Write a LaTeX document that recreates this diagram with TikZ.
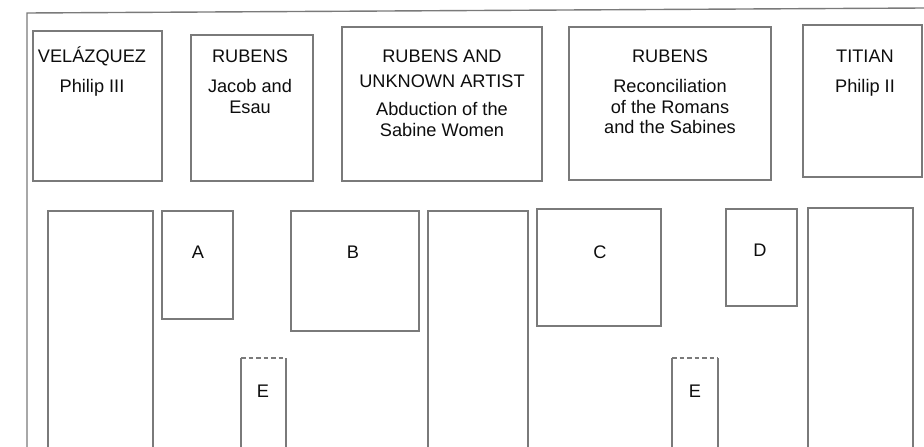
\documentclass[tikz,border=0pt]{standalone}
\usepackage{fontspec}
\setmainfont{Liberation Sans}
\begin{document}
\begin{tikzpicture}[x=1pt,y=-1pt,
  wall/.style={draw=black!52,line width=1.4pt},
  frame/.style={draw=black!52,line width=1.4pt},
  boxx/.style={wall,anchor=north west,inner sep=0pt,outer sep=0pt},
  lbl/.style={anchor=base,inner sep=0pt,text=black!95,font=\fontsize{18.2}{21}\selectfont}]
\useasboundingbox (0,0) rectangle (924,447);
% outer frame
\coordinate (fbl) at (27,447);
\coordinate (ftl) at (27,13);
\coordinate (ftr) at (924,8);
\draw[frame] (fbl) -- (ftl) -- (ftr);
% top row paintings
\node[boxx,minimum width=129pt,minimum height=150pt] (p1) at (33,31) {};
\node[boxx,minimum width=122pt,minimum height=146pt] (p2) at (191,35) {};
\node[boxx,minimum width=200pt,minimum height=154pt] (p3) at (342,27) {};
\node[boxx,minimum width=202pt,minimum height=153pt] (p4) at (569,27) {};
\node[boxx,minimum width=119pt,minimum height=152pt] (p5) at (803,25) {};
% texts
\node[lbl] (t1a) at (92,62) {VELÁZQUEZ};
\node[lbl] (t1b) at (92,92) {Philip III};
\node[lbl] (t2a) at (250,62) {RUBENS};
\node[lbl] (t2b) at (250,92) {Jacob and};
\node[lbl] (t2c) at (250,113) {Esau};
\node[lbl] (t3a) at (442,62) {RUBENS AND};
\node[lbl] (t3b) at (442,87) {UNKNOWN ARTIST};
\node[lbl] (t3c) at (442,115) {Abduction of the};
\node[lbl] (t3d) at (442,136) {Sabine Women};
\node[lbl] (t4a) at (670,62) {RUBENS};
\node[lbl] (t4b) at (670,92) {Reconciliation};
\node[lbl] (t4c) at (670,113) {of the Romans};
\node[lbl] (t4d) at (670,133) {and the Sabines};
\node[lbl] (t5a) at (865,62) {TITIAN};
\node[lbl] (t5b) at (865,92) {Philip II};
% bottom row: tall open panels
\draw[wall] (48,447) -- (48,211) -- (153,211) -- (153,447);
\draw[wall] (428,447) -- (428,211) -- (528,211) -- (528,447);
\draw[wall] (808,447) -- (808,208) -- (913,208) -- (913,447);
% small boxes
\node[boxx,minimum width=71pt,minimum height=108pt] (bA) at (162,211) {};
\node[boxx,minimum width=128pt,minimum height=120pt] (bB) at (291,211) {};
\node[boxx,minimum width=124pt,minimum height=117pt] (bC) at (537,209) {};
\node[boxx,minimum width=71pt,minimum height=97pt] (bD) at (726,209) {};
\node[lbl] (lA) at (198,258) {A};
\node[lbl] (lB) at (353,258) {B};
\node[lbl] (lC) at (600,258) {C};
\node[lbl] (lD) at (760,256) {D};
% E panels
\draw[wall] (241,447) -- (241,358);
\draw[wall] (286,447) -- (286,358);
\draw[wall,dash pattern=on 4.5pt off 3pt] (241,358) -- (286,358);
\draw[wall] (672,447) -- (672,358);
\draw[wall] (718,447) -- (718,358);
\draw[wall,dash pattern=on 4.5pt off 3pt] (672,358) -- (718,358);
\node[lbl] (lE1) at (263,397) {E};
\node[lbl] (lE2) at (695,397) {E};
\end{tikzpicture}
\end{document}
